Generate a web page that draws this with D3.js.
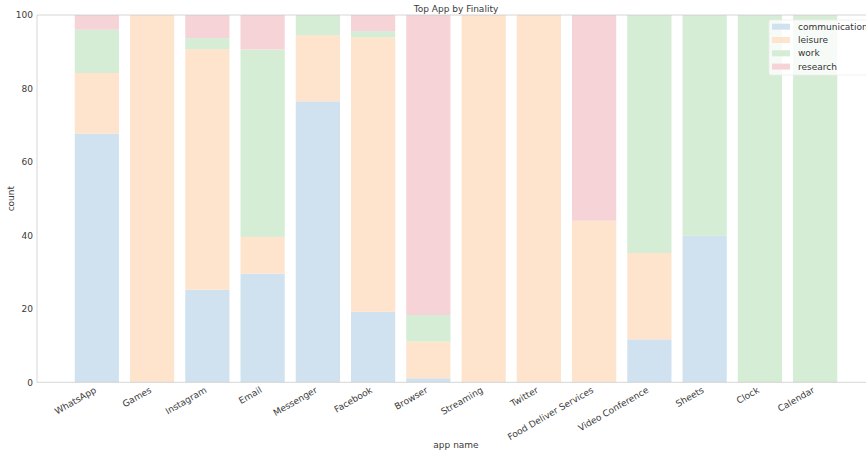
<!DOCTYPE html>
<html>
<head>
<meta charset="utf-8">
<script src="https://cdn.jsdelivr.net/npm/d3@7"></script>
<style>
  html, body { margin: 0; padding: 0; background: #fff; overflow: hidden; }
  svg { display: block; font-family: "DejaVu Sans", sans-serif; }
</style>
</head>
<body>
<svg id="chart" width="866" height="452"></svg>
<script>
// Apps along the x axis
const apps = ["WhatsApp", "Games", "Instagram", "Email", "Messenger", "Facebook", "Browser",
  "Streaming", "Twitter", "Food Deliver Services", "Video Conference", "Sheets", "Clock", "Calendar"];

// Share of each finality per app (stack order bottom to top)
const finalities = ["communication", "leisure", "work", "research"];
const communication = [67.7, 0, 25.2, 29.6, 76.5, 19.2, 1.1, 0, 0, 0, 11.7, 39.9, 0, 0];
const leisure       = [16.5, 100, 65.5, 10.0, 18.0, 74.7, 10.0, 100, 100, 44.0, 23.5, 0, 0, 0];
const work          = [11.8, 0, 3.0, 51.0, 5.5, 1.7, 7.2, 0, 0, 0, 64.8, 60.1, 100, 100];
const research      = [4.0, 0, 6.3, 9.4, 0, 4.4, 81.7, 0, 0, 56.0, 0, 0, 0, 0];

const yTicks = [0, 20, 40, 60, 80, 100];
const colors = ["#d0e2ef", "#fee3cd", "#d5ecd5", "#f5d3d7"];

const rows = apps.map((a, i) => ({
  app: a,
  communication: communication[i],
  leisure: leisure[i],
  work: work[i],
  research: research[i]
}));

const svg = d3.select("#chart");
const plotLeft = 37, plotTop = 15, plotBottom = 382.3, plotRight = 875;
const fs = "9px", ink = "#3a3a3a";

const x = d3.scaleBand().domain(apps).range([plotLeft, plotRight])
  .paddingInner(0.2).paddingOuter(0.683);
const y = d3.scaleLinear().domain([0, 100]).range([plotBottom, plotTop]);
const color = d3.scaleOrdinal().domain(finalities).range(colors);

const stacked = d3.stack().keys(finalities)(rows);

// Stacked bars
svg.append("g").selectAll("g").data(stacked).join("g")
  .attr("fill", d => color(d.key))
  .selectAll("rect").data(d => d).join("rect")
  .attr("x", d => x(d.data.app))
  .attr("width", x.bandwidth())
  .attr("y", d => y(d[1]))
  .attr("height", d => Math.max(0, y(d[0]) - y(d[1])));

// Spines
const spine = "#cccccc";
svg.append("line").attr("x1", plotLeft).attr("x2", plotLeft).attr("y1", plotTop).attr("y2", plotBottom)
  .attr("stroke", spine).attr("stroke-width", 0.8);
svg.append("line").attr("x1", plotLeft).attr("x2", plotRight).attr("y1", plotTop).attr("y2", plotTop)
  .attr("stroke", spine).attr("stroke-width", 0.8);
svg.append("line").attr("x1", plotLeft).attr("x2", plotRight).attr("y1", plotBottom).attr("y2", plotBottom)
  .attr("stroke", spine).attr("stroke-width", 0.8);

// Y axis
const yAxis = svg.append("g").attr("transform", `translate(${plotLeft},0)`)
  .call(d3.axisLeft(y).tickValues(yTicks).tickSize(0).tickPadding(4));
yAxis.select(".domain").remove();
yAxis.selectAll("text").attr("fill", ink).style("font-size", fs)
  .style("font-family", "DejaVu Sans, sans-serif");

// X axis with rotated labels
const xAxis = svg.append("g").attr("transform", `translate(0,${plotBottom})`)
  .call(d3.axisBottom(x).tickSize(0).tickPadding(0));
xAxis.select(".domain").remove();
xAxis.selectAll("text")
  .attr("fill", ink).style("font-size", fs)
  .style("font-family", "DejaVu Sans, sans-serif")
  .attr("text-anchor", "end")
  .attr("dy", null).attr("y", 0)
  .attr("transform", "translate(0,9.5) rotate(-30)");

// Axis titles
svg.append("text").attr("x", (plotLeft + plotRight) / 2).attr("y", 448)
  .attr("text-anchor", "middle").attr("fill", ink).style("font-size", fs)
  .text("app name");
svg.append("text").attr("transform", `translate(14,${(plotTop + plotBottom) / 2}) rotate(-90)`)
  .attr("text-anchor", "middle").attr("fill", ink).style("font-size", fs)
  .text("count");

// Title
svg.append("text").attr("x", (plotLeft + plotRight) / 2).attr("y", 12)
  .attr("text-anchor", "middle").attr("fill", ink).style("font-size", fs)
  .text("Top App by Finality");

// Legend
const lg = svg.append("g").attr("transform", "translate(769,20)");
lg.append("rect").attr("x", 0).attr("y", 0).attr("width", 110).attr("height", 55)
  .attr("rx", 2).attr("fill", "#ffffff").attr("fill-opacity", 0.8)
  .attr("stroke", "#eeeeee").attr("stroke-width", 0.8);
finalities.forEach((k, i) => {
  const row = lg.append("g").attr("transform", `translate(0,${6.7 + i * 13.3})`);
  row.append("rect").attr("x", 3).attr("y", -3).attr("width", 18).attr("height", 6)
    .attr("fill", color(k));
  row.append("text").attr("x", 29).attr("y", 0).attr("dy", "0.35em")
    .attr("fill", "#333").style("font-size", fs).text(k);
});
</script>
</body>
</html>
